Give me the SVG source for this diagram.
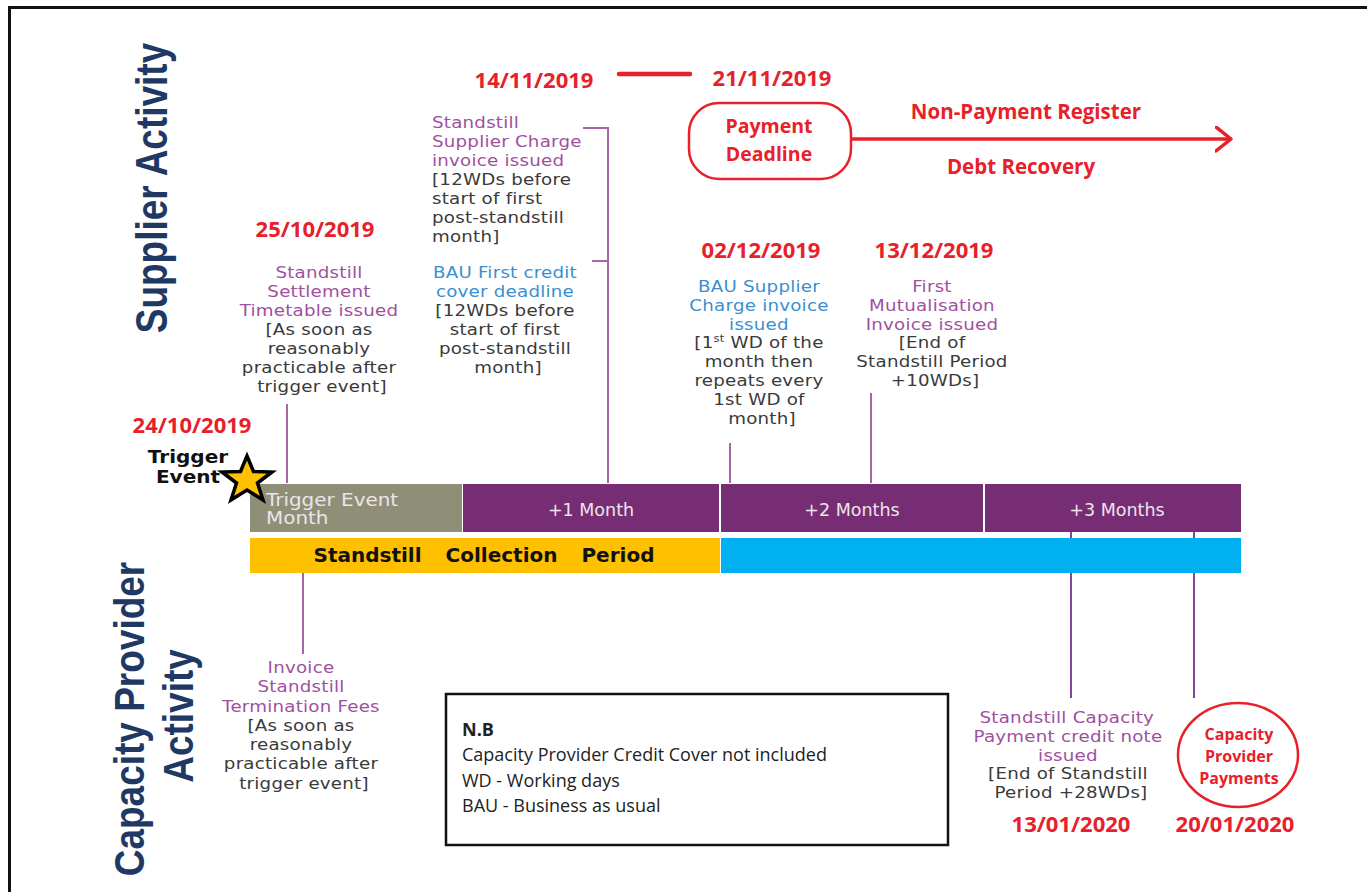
<svg xmlns="http://www.w3.org/2000/svg" width="1367" height="892" viewBox="0 0 1367 892">
<defs>
<style>
.desc{font-family:"DejaVu Sans",Verdana,sans-serif;font-size:16px;letter-spacing:0.2px;fill:#3a3a3a}
.pur{fill:#a0509e}
.blu{fill:#3a8fd2}
.c{text-anchor:middle}
.date{font-family:"Open Sans","Liberation Sans",sans-serif;font-weight:bold;font-size:22px;fill:#e8202a;text-anchor:middle}
.red{font-family:"Open Sans","Liberation Sans",sans-serif;font-weight:bold;fill:#e8202a;text-anchor:middle}
.vlab{font-family:"Liberation Sans",Arial,sans-serif;font-weight:bold;font-size:37px;fill:#203864;text-anchor:middle}
.bar{font-family:"DejaVu Sans",Verdana,sans-serif;font-size:17.5px;fill:#ece4ec}
.conn{stroke:#a566a5;stroke-width:2;fill:none}
.conn2{stroke:#85479a;stroke-width:2;fill:none}
.nb{font-family:"Open Sans","Liberation Sans",sans-serif;font-size:18px;fill:#222}
.trig{font-family:"DejaVu Sans",Verdana,sans-serif;font-weight:bold;font-size:17px;fill:#111;text-anchor:middle}
</style>
<marker id="chev" markerWidth="20" markerHeight="30" refX="16" refY="13" orient="auto" markerUnits="userSpaceOnUse">
<path d="M1,1 L16,13 L1,25" fill="none" stroke="#e8202a" stroke-width="3.5" stroke-linecap="round" stroke-linejoin="round"/>
</marker>
</defs>
<rect width="1367" height="892" fill="#ffffff"/>
<path d="M9.5,892 V7.5 H1367" fill="none" stroke="#111" stroke-width="3"/>

<g id="label-supplier">
<text class="vlab" transform="translate(167,188) rotate(-90) scale(1,1.2)">Supplier Activity</text>
</g>
<g id="label-capacity">
<text class="vlab" transform="translate(144,719) rotate(-90) scale(1,1.15)">Capacity Provider</text>
<text class="vlab" transform="translate(193,716) rotate(-90) scale(1,1.15)">Activity</text>
</g>

<g id="connectors">
<line class="conn" x1="287" y1="404" x2="287" y2="483"/>
<path class="conn" d="M583,128 H608 V483 M592,261 H608"/>
<line class="conn" x1="730" y1="443" x2="730" y2="483"/>
<line class="conn" x1="871" y1="393" x2="871" y2="483"/>
<line class="conn" x1="303" y1="565" x2="303" y2="654"/>
<line class="conn2" x1="1071" y1="532" x2="1071" y2="698"/>
<line class="conn2" x1="1194" y1="532" x2="1194" y2="698"/>
<line x1="619" y1="74" x2="690" y2="74" stroke="#e8202a" stroke-width="4.5" stroke-linecap="round"/>
<line x1="851" y1="139" x2="1231" y2="139" stroke="#e8202a" stroke-width="3.5" marker-end="url(#chev)"/>
</g>

<g id="timeline">
<rect x="250" y="484" width="212" height="48" fill="#8f8f78"/>
<rect x="463" y="484" width="256" height="48" fill="#772d73"/>
<rect x="721" y="484" width="262" height="48" fill="#772d73"/>
<rect x="985" y="484" width="256" height="48" fill="#772d73"/>
<text class="bar" font-size="15.3" transform="translate(266 0) scale(1.14 1) translate(-266 0)"><tspan x="266" y="506">Trigger Event</tspan><tspan x="266" y="524">Month</tspan></text>
<text class="bar c" x="591" y="516">+1 Month</text>
<text class="bar c" x="852" y="516">+2 Months</text>
<text class="bar c" x="1117" y="516">+3 Months</text>
<rect x="250" y="538" width="470" height="35" fill="#ffc000"/>
<rect x="721" y="538" width="520" height="35" fill="#00b0f0"/>
<text x="484" y="562" text-anchor="middle" font-family="DejaVu Sans, Verdana, sans-serif" font-weight="bold" font-size="20" word-spacing="17" fill="#111">Standstill Collection Period</text>
</g>

<g id="trigger-event">
<text class="date" x="192" y="433" font-size="23">24/10/2019</text>
<text class="trig" transform="translate(188 0) scale(1.18 1) translate(-188 0)"><tspan x="188" y="463">Trigger</tspan><tspan x="188" y="483">Event</tspan></text>
<polygon points="247,456 253.5,471.5 272,472 257.5,483 263,500 247,490 231,500 236.5,483 222,472 240.5,471.5" fill="#ffc000" stroke="#000" stroke-width="3.5" stroke-linejoin="miter"/>
</g>

<g id="settlement-timetable">
<text class="date" x="315" y="237">25/10/2019</text>
<text class="desc c" transform="translate(322 0) scale(1.14 1) translate(-322 0)">
<tspan class="pur" x="322" y="278">Standstill</tspan>
<tspan class="pur" x="322" y="297">Settlement</tspan>
<tspan class="pur" x="322" y="316">Timetable issued</tspan>
<tspan x="322" y="335">[As soon as</tspan>
<tspan x="322" y="354">reasonably</tspan>
<tspan x="322" y="373">practicable after</tspan>
<tspan x="322" y="392">trigger event]</tspan>
</text>
</g>

<g id="supplier-charge-invoice">
<text class="date" x="534" y="88" font-size="23">14/11/2019</text>
<text class="desc" transform="translate(432 0) scale(1.14 1) translate(-432 0)">
<tspan class="pur" x="432" y="128">Standstill</tspan>
<tspan class="pur" x="432" y="147">Supplier Charge</tspan>
<tspan class="pur" x="432" y="166">invoice issued</tspan>
<tspan x="432" y="185">[12WDs before</tspan>
<tspan x="432" y="204">start of first</tspan>
<tspan x="432" y="223">post-standstill</tspan>
<tspan x="432" y="242">month]</tspan>
</text>
</g>

<g id="bau-credit-cover">
<text class="desc c" transform="translate(508 0) scale(1.14 1) translate(-508 0)">
<tspan class="blu" x="508" y="278">BAU First credit</tspan>
<tspan class="blu" x="508" y="297">cover deadline</tspan>
<tspan x="508" y="316">[12WDs before</tspan>
<tspan x="508" y="335">start of first</tspan>
<tspan x="508" y="354">post-standstill</tspan>
<tspan x="508" y="373">month]</tspan>
</text>
</g>

<g id="payment-deadline">
<text class="date" x="772" y="86">21/11/2019</text>
<rect x="689" y="103" width="162" height="76" rx="30" ry="30" fill="#fff" stroke="#e8202a" stroke-width="2.5"/>
<text class="red" x="769" y="133" font-size="19.5">Payment</text>
<text class="red" x="769" y="161" font-size="19.5">Deadline</text>
</g>

<g id="non-payment">
<text class="red" x="1026" y="119" font-size="20.5">Non-Payment Register</text>
<text class="red" x="1021" y="174" font-size="20.5">Debt Recovery</text>
</g>

<g id="bau-supplier-charge">
<text class="date" x="761" y="258" font-size="23">02/12/2019</text>
<text class="desc c" transform="translate(762 0) scale(1.14 1) translate(-762 0)">
<tspan class="blu" x="762" y="292">BAU Supplier</tspan>
<tspan class="blu" x="762" y="310.8">Charge invoice</tspan>
<tspan class="blu" x="762" y="329.6">issued</tspan>
<tspan x="762" y="348.4">[1<tspan font-size="10" dy="-6">st</tspan><tspan dy="6"> WD of the</tspan></tspan>
<tspan x="762" y="367.2">month then</tspan>
<tspan x="762" y="386">repeats every</tspan>
<tspan x="762" y="404.8">1st WD of</tspan>
<tspan x="762" y="423.6">month]</tspan>
</text>
</g>

<g id="mutualisation">
<text class="date" x="934" y="258" font-size="23">13/12/2019</text>
<text class="desc c" transform="translate(935 0) scale(1.14 1) translate(-935 0)">
<tspan class="pur" x="935" y="292">First</tspan>
<tspan class="pur" x="935" y="310.8">Mutualisation</tspan>
<tspan class="pur" x="935" y="329.6">Invoice issued</tspan>
<tspan x="935" y="348.4">[End of</tspan>
<tspan x="935" y="367.2">Standstill Period</tspan>
<tspan x="935" y="386">+10WDs]</tspan>
</text>
</g>

<g id="termination-fees">
<text class="desc c" transform="translate(304 0) scale(1.14 1) translate(-304 0)">
<tspan class="pur" x="304" y="673">Invoice</tspan>
<tspan class="pur" x="304" y="692.3">Standstill</tspan>
<tspan class="pur" x="304" y="711.6">Termination Fees</tspan>
<tspan x="304" y="730.9">[As soon as</tspan>
<tspan x="304" y="750.2">reasonably</tspan>
<tspan x="304" y="769.5">practicable after</tspan>
<tspan x="304" y="788.8">trigger event]</tspan>
</text>
</g>

<g id="nb-box">
<rect x="446" y="694" width="502" height="151" fill="#fff" stroke="#111" stroke-width="2.5"/>
<text class="nb" x="462" y="736" font-weight="bold">N.B</text>
<text class="nb" x="462" y="761">Capacity Provider Credit Cover not included</text>
<text class="nb" x="462" y="787">WD - Working days</text>
<text class="nb" x="462" y="812">BAU - Business as usual</text>
</g>

<g id="capacity-credit-note">
<text class="desc c" transform="translate(1071 0) scale(1.14 1) translate(-1071 0)">
<tspan class="pur" x="1070" y="723">Standstill Capacity</tspan>
<tspan class="pur" x="1071" y="741.8">Payment credit note</tspan>
<tspan class="pur" x="1071" y="760.6">issued</tspan>
<tspan x="1071" y="779.4">[End of Standstill</tspan>
<tspan x="1071" y="798.2">Period +28WDs]</tspan>
</text>
<text class="date" x="1071" y="832" font-size="20">13/01/2020</text>
</g>

<g id="capacity-payments">
<ellipse cx="1238" cy="755" rx="60" ry="52" fill="#fff" stroke="#e8202a" stroke-width="2.5"/>
<text class="red" x="1239" y="740" font-size="16">Capacity</text>
<text class="red" x="1239" y="762" font-size="16">Provider</text>
<text class="red" x="1239" y="784" font-size="16">Payments</text>
<text class="date" x="1235" y="832" font-size="20">20/01/2020</text>
</g>
</svg>
